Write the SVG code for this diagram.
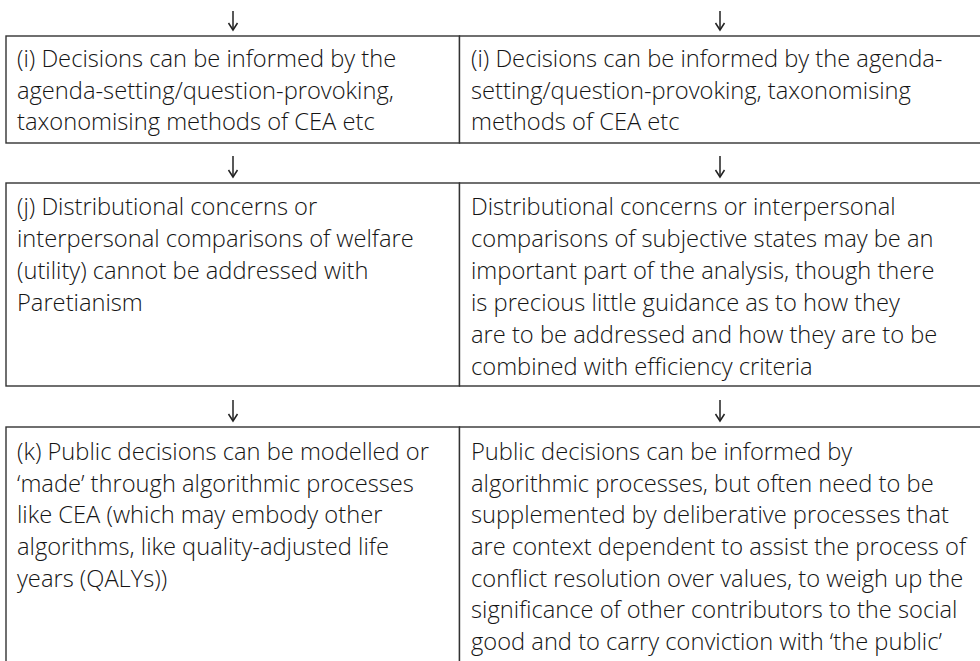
<svg xmlns="http://www.w3.org/2000/svg" width="980" height="661" viewBox="0 0 980 661">
  <style>
    .cell { fill: #ffffff; stroke: #333333; stroke-width: 1.4; }
    .txt { font-family: "Open Sans", "Noto Sans", "DejaVu Sans", sans-serif; font-size: 23.7px; font-weight: 300; fill: #141414; }
    .arrow { stroke: #222222; stroke-width: 1.5; fill: none; }
  </style>
  <rect width="980" height="661" fill="#ffffff"/>

  <!-- connectors: downward arrows above each row -->
  <g id="connectors">
    <line class="arrow" x1="233" y1="11" x2="233" y2="30"/>
    <path class="arrow" d="M228.5 23 L233 30 L237.5 23"/>
    <line class="arrow" x1="720" y1="11" x2="720" y2="30"/>
    <path class="arrow" d="M715.5 23 L720 30 L724.5 23"/>

    <line class="arrow" x1="233" y1="156" x2="233" y2="177"/>
    <path class="arrow" d="M228.5 170 L233 177 L237.5 170"/>
    <line class="arrow" x1="720" y1="156" x2="720" y2="177"/>
    <path class="arrow" d="M715.5 170 L720 177 L724.5 170"/>

    <line class="arrow" x1="233" y1="400" x2="233" y2="421"/>
    <path class="arrow" d="M228.5 414 L233 421 L237.5 414"/>
    <line class="arrow" x1="720" y1="400" x2="720" y2="421"/>
    <path class="arrow" d="M715.5 414 L720 421 L724.5 414"/>
  </g>

  <!-- row i -->
  <g id="row-i-left">
    <rect class="cell" x="6" y="36" width="453.5" height="107"/>
    <text class="txt">
      <tspan x="17" y="67">(i) Decisions can be informed by the</tspan>
      <tspan x="17" y="99">agenda-setting/question-provoking,</tspan>
      <tspan x="17" y="130">taxonomising methods of CEA etc</tspan>
    </text>
  </g>
  <g id="row-i-right">
    <rect class="cell" x="459.5" y="36" width="530" height="107"/>
    <text class="txt">
      <tspan x="471" y="67">(i) Decisions can be informed by the agenda-</tspan>
      <tspan x="471" y="99">setting/question-provoking, taxonomising</tspan>
      <tspan x="471" y="130">methods of CEA etc</tspan>
    </text>
  </g>

  <!-- row j -->
  <g id="row-j-left">
    <rect class="cell" x="6" y="183" width="453.5" height="203"/>
    <text class="txt">
      <tspan x="17" y="215">(j) Distributional concerns or</tspan>
      <tspan x="17" y="247">interpersonal comparisons of welfare</tspan>
      <tspan x="17" y="279">(utility) cannot be addressed with</tspan>
      <tspan x="17" y="311">Paretianism</tspan>
    </text>
  </g>
  <g id="row-j-right">
    <rect class="cell" x="459.5" y="183" width="530" height="203"/>
    <text class="txt">
      <tspan x="471" y="215">Distributional concerns or interpersonal</tspan>
      <tspan x="471" y="247">comparisons of subjective states may be an</tspan>
      <tspan x="471" y="279">important part of the analysis, though there</tspan>
      <tspan x="471" y="311">is precious little guidance as to how they</tspan>
      <tspan x="471" y="343">are to be addressed and how they are to be</tspan>
      <tspan x="471" y="375">combined with efficiency criteria</tspan>
    </text>
  </g>

  <!-- row k -->
  <g id="row-k-left">
    <rect class="cell" x="6" y="427" width="453.5" height="260"/>
    <text class="txt">
      <tspan x="17" y="460">(k) Public decisions can be modelled or</tspan>
      <tspan x="17" y="492">‘made’ through algorithmic processes</tspan>
      <tspan x="17" y="523">like CEA (which may embody other</tspan>
      <tspan x="17" y="555">algorithms, like quality-adjusted life</tspan>
      <tspan x="17" y="587">years (QALYs))</tspan>
    </text>
  </g>
  <g id="row-k-right">
    <rect class="cell" x="459.5" y="427" width="530" height="260"/>
    <text class="txt">
      <tspan x="471" y="460">Public decisions can be informed by</tspan>
      <tspan x="471" y="492">algorithmic processes, but often need to be</tspan>
      <tspan x="471" y="523">supplemented by deliberative processes that</tspan>
      <tspan x="471" y="555">are context dependent to assist the process of</tspan>
      <tspan x="471" y="587">conflict resolution over values, to weigh up the</tspan>
      <tspan x="471" y="618">significance of other contributors to the social</tspan>
      <tspan x="471" y="650">good and to carry conviction with ‘the public’</tspan>
    </text>
  </g>
</svg>
